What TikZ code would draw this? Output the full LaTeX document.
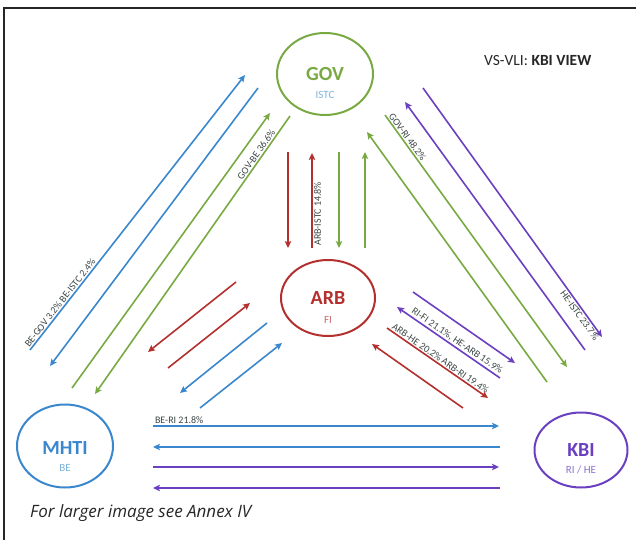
\documentclass[tikz,border=0pt]{standalone}
\usepackage{fontspec}
\setmainfont{Carlito}
\newfontfamily\footfont{Open Sans}
\usetikzlibrary{arrows.meta,shapes.geometric}

\definecolor{cblue}{HTML}{3A87CD}
\definecolor{cgreen}{HTML}{78A943}
\definecolor{cred}{HTML}{B3302E}
\definecolor{cpurple}{HTML}{6A40C0}
\definecolor{subblue}{HTML}{7DB5DA}
\definecolor{subred}{HTML}{C86A6A}
\definecolor{subpurple}{HTML}{8C72CC}
\definecolor{lblgray}{HTML}{3C4646}
\definecolor{framec}{HTML}{262626}

\begin{document}
\begin{tikzpicture}[x=1pt,y=-1pt,
  conn/.style={line width=1.6pt,-{Stealth[length=7pt,width=6.5pt,inset=1.5pt]}},
  actor/.style={ellipse,draw,line width=2pt,inner sep=0pt},
  actorname/.style={font=\fontsize{20}{20}\selectfont\bfseries,inner sep=0pt,anchor=base},
  actorrole/.style={font=\fontsize{11}{11}\selectfont,inner sep=0pt,anchor=base},
  lbltext/.style={font=\fontsize{10}{10}\selectfont,text=lblgray,inner sep=1.2pt},
  flowlbl/.style={lbltext,sloped}]
\useasboundingbox (0,0) rectangle (640,540);

% page frame
\draw[framec,line width=1.5pt] (4,540) -- (4,8) -- (636,8);

% the four actors
\node[actor,cgreen,minimum width=96pt,minimum height=82pt] (gov) at (325,74) {};
\node[actor,cred,minimum width=94pt,minimum height=76pt] (arb) at (328,298) {};
\node[actor,cblue,minimum width=96pt,minimum height=83pt] (mhti) at (65,446) {};
\node[actor,cpurple,minimum width=93pt,minimum height=75pt] (kbi) at (581,450) {};

\node[actorname,text=cgreen] (govname) at (325,81) {GOV};
\node[actorrole,text=subblue] (govrole) at (325,99) {ISTC};
\node[actorname,text=cred] (arbname) at (328,304) {ARB};
\node[actorrole,text=subred] (arbrole) at (328,323) {FI};
\node[actorname,text=cblue] (mhtiname) at (65,454) {MHTI};
\node[actorrole,text=subblue] (mhtirole) at (65,471) {BE};
\node[actorname,text=cpurple] (kbiname) at (581,456) {KBI};
\node[actorrole,text=subpurple] (kbirole) at (581,473) {RI / HE};

% title and footnote
\node[anchor=base west,inner sep=0pt,text=framec,font=\fontsize{15.5}{15.5}\selectfont] (title) at (484,66) {VS-VLI: \textbf{KBI VIEW}};
\node[anchor=base west,inner sep=0pt,text=framec,font=\footfont\itshape\fontsize{17}{17}\selectfont] (note) at (30,517) {For larger image see Annex IV};

% connector end points
% MHTI <-> GOV
\coordinate (b1s) at (30,350);   \coordinate (b1e) at (245,75);
\coordinate (b2s) at (258,88);   \coordinate (b2e) at (50,366);
\coordinate (g1s) at (72,388);   \coordinate (g1e) at (270,113);
\coordinate (g2s) at (290,116);  \coordinate (g2e) at (95,394);
% GOV <-> KBI
\coordinate (p1s) at (423,88);   \coordinate (p1e) at (602,337);
\coordinate (p2s) at (585,350);  \coordinate (p2e) at (405,102);
\coordinate (g3s) at (385,115);  \coordinate (g3e) at (567,367);
\coordinate (g4s) at (547,382);  \coordinate (g4e) at (367,132);
% GOV <-> ARB
\coordinate (r1s) at (288,152);  \coordinate (r1e) at (288,248);
\coordinate (r2s) at (312,248);  \coordinate (r2e) at (312,153);
\coordinate (g5s) at (339,152);  \coordinate (g5e) at (339,248);
\coordinate (g6s) at (365,248);  \coordinate (g6e) at (365,152);
% ARB <-> MHTI
\coordinate (r3s) at (236,282);  \coordinate (r3e) at (148,352);
\coordinate (r4s) at (168,368);  \coordinate (r4e) at (250,303);
\coordinate (b3s) at (267,323);  \coordinate (b3e) at (180,393);
\coordinate (b4s) at (200,408);  \coordinate (b4e) at (282,343);
% ARB <-> KBI
\coordinate (p3s) at (413,292);  \coordinate (p3e) at (515,363);
\coordinate (p4s) at (500,378);  \coordinate (p4e) at (397,307);
\coordinate (r5s) at (387,328);  \coordinate (r5e) at (488,398);
\coordinate (r6s) at (463,408);  \coordinate (r6e) at (372,344);
% MHTI <-> KBI
\coordinate (h1s) at (153,426);  \coordinate (h1e) at (499,426);
\coordinate (h2s) at (500,447);  \coordinate (h2e) at (153,447);
\coordinate (h3s) at (153,467);  \coordinate (h3e) at (499,467);
\coordinate (h4s) at (500,488);  \coordinate (h4e) at (153,488);

% MHTI <-> GOV
\draw[conn,cblue] (b1s) -- node[flowlbl,pos=0.16,above] {BE-GOV 3.2\% BE-ISTC 2.4\%} (b1e);
\draw[conn,cblue] (b2s) -- (b2e);
\draw[conn,cgreen] (g1s) -- (g1e);
\draw[conn,cgreen] (g2s) -- node[flowlbl,pos=0.15,above] {GOV-BE 36.6\%} (g2e);

% GOV <-> KBI
\draw[conn,cpurple] (p1s) -- node[flowlbl,pos=0.9,below] {HE-ISTC 23.7\%} (p1e);
\draw[conn,cpurple] (p2s) -- (p2e);
\draw[conn,cgreen] (g3s) -- node[flowlbl,pos=0.1,above] {GOV-RI 48.2\%} (g3e);
\draw[conn,cgreen] (g4s) -- (g4e);

% GOV <-> ARB
\draw[conn,cred] (r1s) -- (r1e);
\draw[conn,cred] (r2s) -- node[flowlbl,pos=0.36,below] {ARB-ISTC 14.8\%} (r2e);
\draw[conn,cgreen] (g5s) -- (g5e);
\draw[conn,cgreen] (g6s) -- (g6e);

% ARB <-> MHTI
\draw[conn,cred] (r3s) -- (r3e);
\draw[conn,cred] (r4s) -- (r4e);
\draw[conn,cblue] (b3s) -- (b3e);
\draw[conn,cblue] (b4s) -- (b4e);

% ARB <-> KBI
\draw[conn,cpurple] (p3s) -- (p3e);
\draw[conn,cpurple] (p4s) -- node[flowlbl,pos=0.45,above] {RI-FI 21.1\%, HE-ARB 15.9\%} (p4e);
\draw[conn,cred] (r5s) -- node[flowlbl,pos=0.5,above] {ARB-HE 20.2\% ARB-RI 19.4\%} (r5e);
\draw[conn,cred] (r6s) -- (r6e);

% MHTI <-> KBI
\draw[conn,cblue] (h1s) -- node[lbltext,pos=0,anchor=south west] {BE-RI 21.8\%} (h1e);
\draw[conn,cblue] (h2s) -- (h2e);
\draw[conn,cpurple] (h3s) -- (h3e);
\draw[conn,cpurple] (h4s) -- (h4e);
\end{tikzpicture}
\end{document}
